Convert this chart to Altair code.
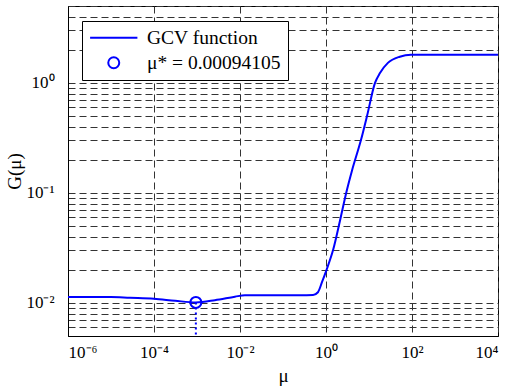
import json
import altair as alt
import pandas as pd

# GCV curve
mu = [1e-6, 1e-5, 2.75e-5, 1e-4, 3.1e-4, 9.4105e-4, 2.6e-3, 7.6e-3, 1.3e-2, 0.1, 0.25,
      0.5, 0.65, 0.81, 1.05, 1.46, 2.12, 2.92, 4.03, 6.5, 9.0, 13.8, 18, 27.5, 52, 95, 1000, 1e4]
gcv = [0.01132, 0.01132, 0.01114, 0.01091, 0.01045, 0.0101, 0.01057, 0.01138, 0.01175, 0.01175, 0.01175,
       0.0118, 0.0125, 0.0155, 0.0204, 0.0302, 0.0562, 0.0984, 0.16, 0.302, 0.50, 1.0, 1.23, 1.52, 1.73, 1.80, 1.80, 1.80]

mu_star = [0.00094105]
g_star = [0.0101]

series = ["GCV function", "\u03bc* = 0.00094105"]

x_domain = [1e-6, 1e4]
y_domain = [0.005, 5]

x_ticks = [1e-6, 1e-4, 1e-2, 1, 1e2, 1e4]
x_labels = ["10\u207b\u2076", "10\u207b\u2074", "10\u207b\u00b2", "10\u2070", "10\u00b2", "10\u2074"]
y_grid = [0.005, 0.006, 0.007, 0.008, 0.009,
          0.01, 0.02, 0.03, 0.04, 0.05, 0.06, 0.07, 0.08, 0.09,
          0.1, 0.2, 0.3, 0.4, 0.5, 0.6, 0.7, 0.8, 0.9,
          1, 2, 3, 4, 5]
y_ticks = [0.01, 0.1, 1]
y_labels = ["10\u207b\u00b2", "10\u207b\u00b9", "10\u2070"]

curve = pd.DataFrame({"mu": mu, "G": gcv, "series": series[0]})
star = pd.DataFrame({"mu": mu_star, "G": g_star, "Gmin": [y_domain[0]], "series": series[1]})

FONT = "Liberation Serif"
BLUE = "#0000ff"

xscale = alt.Scale(type="log", domain=x_domain, nice=False)
yscale = alt.Scale(type="log", domain=y_domain, nice=False)

x_axis = alt.Axis(values=x_ticks, labelExpr=f"{json.dumps(x_labels)}[indexof({json.dumps(x_ticks)}, datum.value)] || ''",
                  title="\u03bc", labelPadding=8, titlePadding=6)
y_axis = alt.Axis(values=y_grid, labelExpr=f"{json.dumps(y_labels)}[indexof({json.dumps(y_ticks)}, datum.value)] || ''",
                  title="G(\u03bc)", labelPadding=14, titleX=-54, titleY=165, titleBaseline="middle",
                  titleAlign="center")

color = alt.Color("series:N", scale=alt.Scale(domain=series, range=[BLUE, BLUE]),
                  legend=alt.Legend(title=None))
shape = alt.Shape("series:N", scale=alt.Scale(domain=series, range=["M-4.3,0L4.3,0", "circle"]),
                  legend=alt.Legend(title=None))

line = alt.Chart(curve).mark_line(strokeWidth=2, clip=True, interpolate="monotone").encode(
    x=alt.X("mu:Q", scale=xscale, axis=x_axis),
    y=alt.Y("G:Q", scale=yscale, axis=y_axis),
    color=color,
)

drop = alt.Chart(star).mark_rule(color=BLUE, strokeWidth=2, strokeDash=[2, 3]).encode(
    x="mu:Q", y="G:Q", y2="Gmin:Q",
)

pt = alt.Chart(star).mark_point(size=121, strokeWidth=2, filled=False, opacity=1).encode(
    x="mu:Q", y="G:Q", color=color, shape=shape,
)

chart = alt.layer(line, drop, pt).properties(
    width=430, height=330,
    autosize=alt.AutoSizeParams(type="none"),
    padding={"left": 68, "top": 6, "right": 13, "bottom": 51},
).configure_view(
    stroke="black", strokeWidth=1,
).configure_axis(
    domainColor="black", domainWidth=1, ticks=False,
    grid=True, gridColor="#333333", gridDash=[7, 4], gridOpacity=1, gridWidth=1,
    labelFont=FONT, labelFontSize=17, labelColor="black", labelOverlap=False,
    titleFont=FONT, titleFontSize=19, titleFontWeight="normal", titleColor="black",
).configure_legend(
    orient="none", legendX=14, legendY=15,
    strokeColor="black", fillColor="white", padding=7,
    labelFont=FONT, labelFontSize=19.5, labelColor="black", labelOffset=23.5,
    symbolSize=121, symbolStrokeWidth=2, symbolOffset=15, rowPadding=4,
)

chart.save("out.html", embed_options={"renderer": "svg", "actions": False})
